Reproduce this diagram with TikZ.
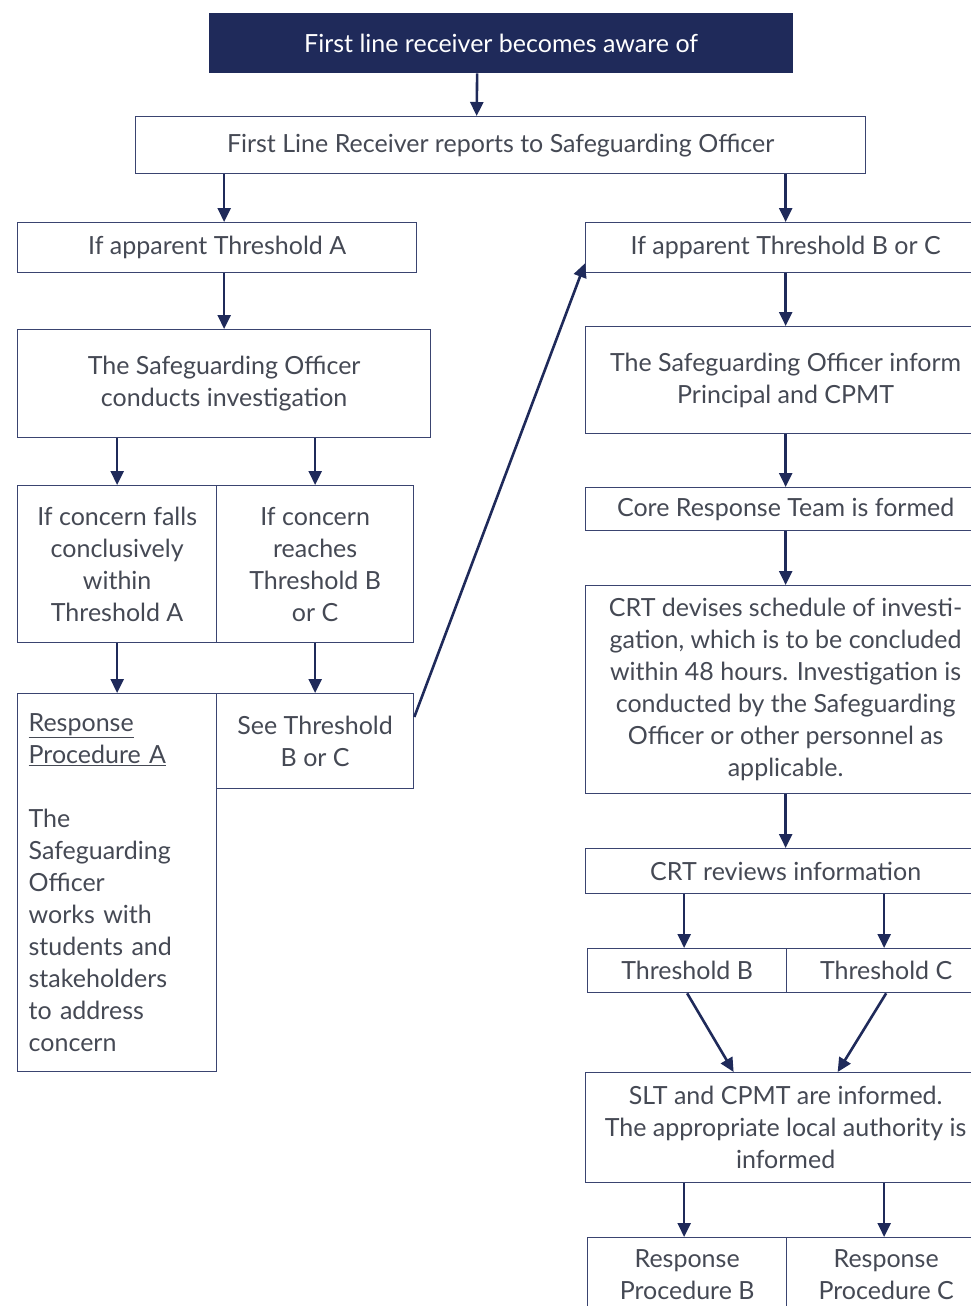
\documentclass[tikz,border=0pt]{standalone}
\usepackage{fontspec}
\setmainfont{Lato}
\usepackage{tikz}
\usetikzlibrary{positioning,arrows.meta}
\usepackage{xcolor}
\definecolor{navy}{HTML}{1F2A5A}
\definecolor{txtgrey}{HTML}{454954}
\definecolor{linec}{HTML}{3A4470}

\begin{document}
\begin{tikzpicture}[x=1pt, y=-1pt,
      box/.style={draw=linec, line width=1.3pt, align=center, inner sep=0pt,
                  anchor=north west, text=txtgrey,
                  font=\fontsize{25}{32}\selectfont},
      topbox/.style={box, fill=navy, draw=navy, text=white},
      arr/.style={draw=navy, line width=2.6pt, -{Triangle[length=14pt,width=13pt]}}]
    \useasboundingbox (0,0) rectangle (971,1306);
    \clip (0,0) rectangle (971,1306);
    % top of the chart
    \node[topbox, minimum width=583, minimum height=59] (aware) at (209,13) {First line receiver becomes aware of};
    \node[box, minimum width=730, minimum height=57] (report) at (135,116) {First Line Receiver reports to Safeguarding Officer};
    % threshold A side
    \node[box, minimum width=399, minimum height=50] (thrA) at (17,222) {If apparent Threshold A};
    \node[box, minimum width=413, minimum height=108] (invest) at (17,329) {The Safeguarding Officer\\conducts investigation};
    \node[box, minimum width=199, minimum height=157] (fallsA) at (17,485) {If concern falls\\conclusively\\within\\Threshold A};
    \node[box, minimum width=197, minimum height=157] (reachBC) at (216,485) {If concern\\reaches\\Threshold B\\or C};
    \node[box, minimum width=199, minimum height=378, text width=177, align=left, inner xsep=11pt] (procA) at (17,693)
      {\underline{Response}\\\underline{Procedure A}\\[32pt]The\\Safeguarding\\Officer\\works with\\students and\\stakeholders\\to address\\concern};
    \node[box, minimum width=197, minimum height=95] (seeBC) at (216,693) {See Threshold\\B or C};
    % threshold B or C side
    \node[box, minimum width=400, minimum height=50] (thrBC) at (585,222) {If apparent Threshold B or C};
    \node[box, minimum width=400, minimum height=107] (inform) at (585,326) {The Safeguarding Officer inform\\Principal and CPMT};
    \node[box, minimum width=400, minimum height=43] (crt) at (585,487) {Core Response Team is formed};
    \node[box, minimum width=400, minimum height=208] (sched) at (585,585)
      {CRT devises schedule of investi-\\gation, which is to be concluded\\within 48 hours. Investigation is\\conducted by the Safeguarding\\Officer or other personnel as\\applicable.};
    \node[box, minimum width=400, minimum height=45] (reviews) at (585,848) {CRT reviews information};
    \node[box, minimum width=199, minimum height=44] (thB) at (587,948) {Threshold B};
    \node[box, minimum width=199, minimum height=44] (thC) at (786,948) {Threshold C};
    \node[box, minimum width=400, minimum height=110] (slt) at (585,1072)
      {SLT and CPMT are informed.\\The appropriate local authority is\\informed};
    \node[box, minimum width=199, minimum height=73] (rpB) at (587,1237) {Response\\Procedure B};
    \node[box, minimum width=199, minimum height=73] (rpC) at (786,1237) {Response\\Procedure C};

    \draw[arr] ([xshift=-24]aware.south) -- ([xshift=-24]report.north);
    \draw[arr] (report.south -| invest.north) -- (thrA.north -| invest.north);
    \draw[arr] (report.south -| thrBC.north) -- (thrBC.north);
    \draw[arr] (thrA.south -| invest.north) -- (invest.north);
    \draw[arr] (invest.south -| fallsA.north) -- (fallsA.north);
    \draw[arr] (invest.south -| reachBC.north) -- (reachBC.north);
    \draw[arr] (fallsA.south) -- (procA.north);
    \draw[arr] (reachBC.south) -- (seeBC.north);
    \draw[arr] ([yshift=-24]seeBC.north east) -- ([yshift=10]thrBC.south west);
    \draw[arr] (thrBC.south) -- (inform.north);
    \draw[arr] (inform.south) -- (crt.north);
    \draw[arr] (crt.south) -- (sched.north);
    \draw[arr] (sched.south) -- (reviews.north);
    \draw[arr] ([xshift=-3]reviews.south -| thB.north) -- ([xshift=-3]thB.north);
    \draw[arr] ([xshift=-2]reviews.south -| thC.north) -- ([xshift=-2]thC.north);
    \draw[arr] (thB.south) -- ([xshift=-52]slt.north);
    \draw[arr] (thC.south) -- ([xshift=52]slt.north);
    \draw[arr] ([xshift=-3]slt.south -| rpB.north) -- ([xshift=-3]rpB.north);
    \draw[arr] ([xshift=-2]slt.south -| rpC.north) -- ([xshift=-2]rpC.north);
  \end{tikzpicture}
\end{document}
